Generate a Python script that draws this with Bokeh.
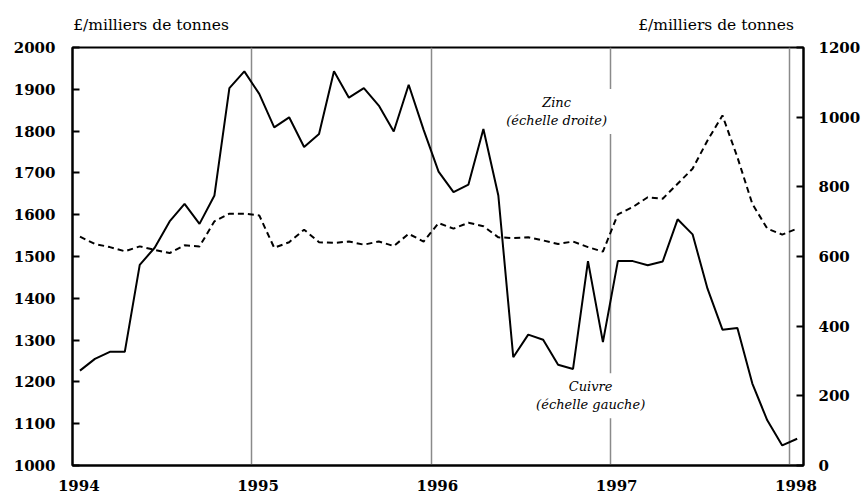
from bokeh.plotting import figure
from bokeh.models import LinearAxis, Range1d, FixedTicker, Label, CustomJSTickFormatter
from bokeh.embed import file_html
from bokeh.resources import INLINE

# Monthly observations, January 1994 to January 1998
start_year = 1994
n_months = 49
copper = [1227, 1255, 1272, 1272, 1480, 1521, 1584, 1626, 1578, 1646, 1903, 1943,
          1889, 1809, 1833, 1762, 1793, 1943, 1880, 1903, 1861, 1799, 1911, 1803,
          1703, 1654, 1672, 1805, 1646, 1259, 1313, 1301, 1241, 1231, 1489, 1295,
          1489, 1489, 1479, 1488, 1589, 1553, 1423, 1325, 1329, 1196, 1108, 1048, 1064]
zinc = [657, 636, 627, 615, 629, 619, 610, 632, 629, 701, 723, 723,
        718, 625, 641, 677, 641, 639, 643, 634, 643, 630, 665, 643,
        696, 680, 697, 687, 655, 653, 655, 646, 636, 643, 627, 614,
        721, 742, 770, 766, 809, 852, 933, 1005, 885, 751, 680, 663, 680]
years = [1994, 1995, 1996, 1997, 1998]
grid_years = [1995, 1996, 1997, 1998]
left_ticks = [1000, 1100, 1200, 1300, 1400, 1500, 1600, 1700, 1800, 1900, 2000]
right_ticks = [0, 200, 400, 600, 800, 1000, 1200]
unit_text = "£/milliers de tonnes"
zinc_text = "Zinc\n(échelle droite)"
copper_text = "Cuivre\n(échelle gauche)"

x = [start_year + (k + 0.5) / 12 for k in range(n_months)]

FONT = "DejaVu Serif"

p = figure(width=863, height=497, x_range=Range1d(1994, 1998.077), y_range=Range1d(1000, 2000),
           output_backend="svg", toolbar_location=None,
           min_border_left=72, min_border_right=60, min_border_top=47, min_border_bottom=32)
p.extra_y_ranges = {"zinc": Range1d(0, 1200)}
p.background_fill_color = "white"
p.border_fill_color = "white"
p.outline_line_color = "black"
p.outline_line_width = 2

# grid: vertical gray lines at year starts
p.ygrid.visible = False
p.xgrid.ticker = FixedTicker(ticks=grid_years)
p.xgrid.grid_line_color = "#8a8a8a"
p.xgrid.grid_line_width = 1.5

def style_axis(ax, standoff):
    ax.axis_line_color = "black"
    ax.axis_line_width = 2
    ax.major_tick_line_color = "black"
    ax.major_tick_line_width = 2
    ax.major_tick_in = 7
    ax.major_tick_out = 0
    ax.minor_tick_line_color = None
    ax.major_label_text_font = FONT
    ax.major_label_text_font_style = "bold"
    ax.major_label_text_font_size = "15px"
    ax.major_label_text_color = "black"
    ax.major_label_standoff = standoff

# bottom axis
xa = p.xaxis[0]
style_axis(xa, 14)
xa.ticker = FixedTicker(ticks=[y + 0.035 for y in years])
xa.formatter = CustomJSTickFormatter(code="return String(Math.floor(tick));")
xa.major_tick_in = 0

# left axis
ya = p.yaxis[0]
style_axis(ya, 17)
ya.ticker = FixedTicker(ticks=left_ticks)

# right axis
ra = LinearAxis(y_range_name="zinc", ticker=FixedTicker(ticks=right_ticks))
style_axis(ra, 15)
p.add_layout(ra, "right")

# unit captions above the frame, drawn as a label-only top axis
ta = LinearAxis(ticker=FixedTicker(ticks=[1994.438, 1997.589]),
                formatter=CustomJSTickFormatter(args=dict(label=unit_text), code="return label;"))
ta.axis_line_color = None
ta.major_tick_line_color = None
ta.minor_tick_line_color = None
ta.major_tick_in = 0
ta.major_tick_out = 0
ta.major_label_text_font = FONT
ta.major_label_text_font_style = "normal"
ta.major_label_text_font_size = "15.5px"
ta.major_label_text_color = "black"
ta.major_label_standoff = 14
p.add_layout(ta, "above")

p.line(x, copper, line_color="black", line_width=2)
p.line(x, zinc, y_range_name="zinc", line_color="black", line_width=2, line_dash="6 4")

p.add_layout(Label(x=1996.70, y=1847, text=zinc_text, text_align="center", text_baseline="middle",
                   text_font=FONT, text_font_style="italic", text_font_size="13px",
                   text_color="black", background_fill_color="white", padding=6))
p.add_layout(Label(x=1996.89, y=1167, text=copper_text, text_align="center", text_baseline="middle",
                   text_font=FONT, text_font_style="italic", text_font_size="13px",
                   text_color="black", background_fill_color="white", padding=6))

open("out.html", "w").write(file_html(p, INLINE))
